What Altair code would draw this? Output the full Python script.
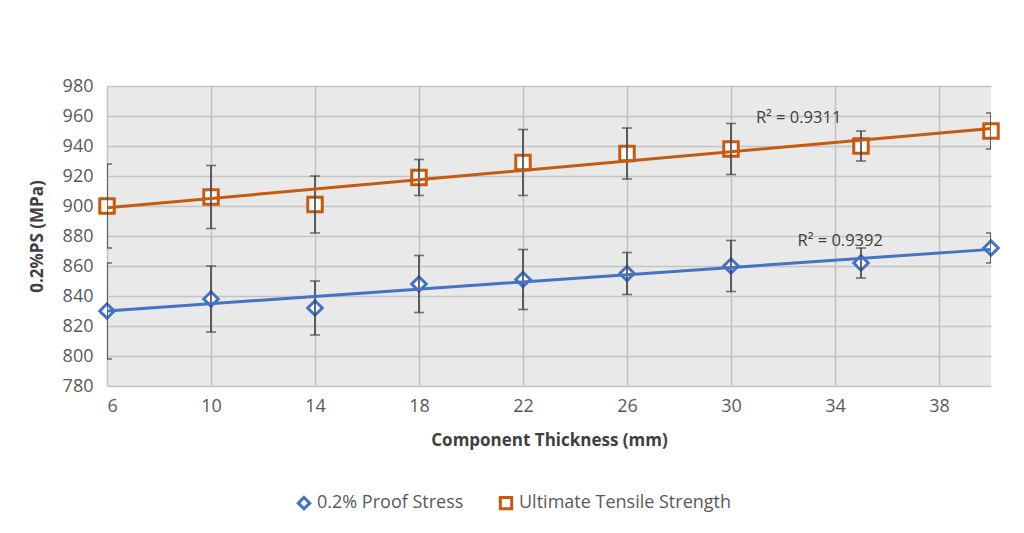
import altair as alt
import pandas as pd

thickness = [6, 10, 14, 18, 22, 26, 30, 35, 40]
proof = [830, 838, 832, 848, 851, 855, 860, 862, 872]
proof_err = [32, 22, 18, 19, 20, 14, 17, 10, 10]
uts = [900, 906, 901, 919, 929, 935, 938, 940, 950]
uts_err = [28, 21, 19, 12, 22, 17, 17, 10, 12]
series = ["0.2% Proof Stress", "Ultimate Tensile Strength"]
colors = ["#4472C4", "#C55A11"]
x_ticks = [6, 10, 14, 18, 22, 26, 30, 34, 38]
y_ticks = [780, 800, 820, 840, 860, 880, 900, 920, 940, 960, 980]
r2_labels = ["R² = 0.9392", "R² = 0.9311"]
r2_x = [34.2, 32.6]
r2_y = [877, 958.5]

rows = []
for s, vals, errs in [(series[0], proof, proof_err), (series[1], uts, uts_err)]:
    for t, v, e in zip(thickness, vals, errs):
        rows.append({"t": t, "v": v, "lo": v - e, "hi": v + e, "s": s})
df = pd.DataFrame(rows)
lab = pd.DataFrame({"label": r2_labels, "x": r2_x, "y": r2_y})

FONT = "Open Sans"
xs = alt.Scale(domain=[6, 40], nice=False, zero=False)
ys = alt.Scale(domain=[780, 980], nice=False, zero=False)
cs = alt.Scale(domain=series, range=colors)
ss = alt.Scale(domain=series, range=["diamond", "square"])

xaxis = alt.Axis(values=x_ticks, title="Component Thickness (mm)", grid=True,
                 domain=False, ticks=False, labelPadding=11, titlePadding=17,
                 labelOverlap=False)
yaxis = alt.Axis(values=y_ticks, title="0.2%PS (MPa)", grid=True,
                 domain=False, ticks=False, labelPadding=14, titlePadding=16,
                 labelOverlap=False)


def X(field):
    return alt.X(field, type="quantitative", scale=xs, axis=xaxis)


def Y(field):
    return alt.Y(field, type="quantitative", scale=ys, axis=yaxis)


base = alt.Chart(df)

points = base.mark_point(filled=False, strokeWidth=3, size=210, fill="white", fillOpacity=1, opacity=1).encode(
    x=X("t"),
    y=Y("v"),
    color=alt.Color("s:N", scale=cs,
                    legend=alt.Legend(title=None, orient="none", direction="horizontal",
                                      legendX=188, legendY=408, symbolStrokeWidth=3,
                                      symbolSize=130, labelFontSize=18, labelFont=FONT,
                                      labelColor="#595959", columnPadding=30, labelLimit=400,
                                      symbolFillColor="white")),
    shape=alt.Shape("s:N", scale=ss, legend=None),
)

err_rule = base.mark_rule(color="#404040", strokeWidth=1.6, clip=True).encode(
    x=X("t"), y=Y("lo"), y2="hi:Q")
cap_lo = base.mark_tick(color="#404040", thickness=1.6, size=10, orient="horizontal", clip=True).encode(
    x=X("t"), y=Y("lo"))
cap_hi = base.mark_tick(color="#404040", thickness=1.6, size=10, orient="horizontal", clip=True).encode(
    x=X("t"), y=Y("hi"))

trend = base.transform_regression("t", "v", groupby=["s"], extent=[6, 40]).mark_line(strokeWidth=3).encode(
    x=X("t"), y=Y("v"), color=alt.Color("s:N", scale=cs, legend=None))

texts = alt.Chart(lab).mark_text(fontSize=16.5, font=FONT, color="#404040").encode(
    x=X("x"), y=Y("y"), text="label:N")

chart = alt.layer(points, err_rule, cap_lo, cap_hi, trend, texts).properties(
    width=884, height=300,
    autosize=alt.AutoSizeParams(type="none"),
    padding={"left": 99, "top": 78, "right": 25, "bottom": 130},
    background="white",
).configure_view(
    fill="#e9e9e9", stroke=None
).configure_axis(
    gridColor="#c4c4c4", gridWidth=1.6,
    labelFont=FONT, labelFontSize=18, labelColor="#595959",
    titleFont=FONT, titleFontSize=17, titleFontWeight="bold", titleColor="#404040",
)

chart.save("out.html", embed_options={"renderer": "svg", "actions": False})
